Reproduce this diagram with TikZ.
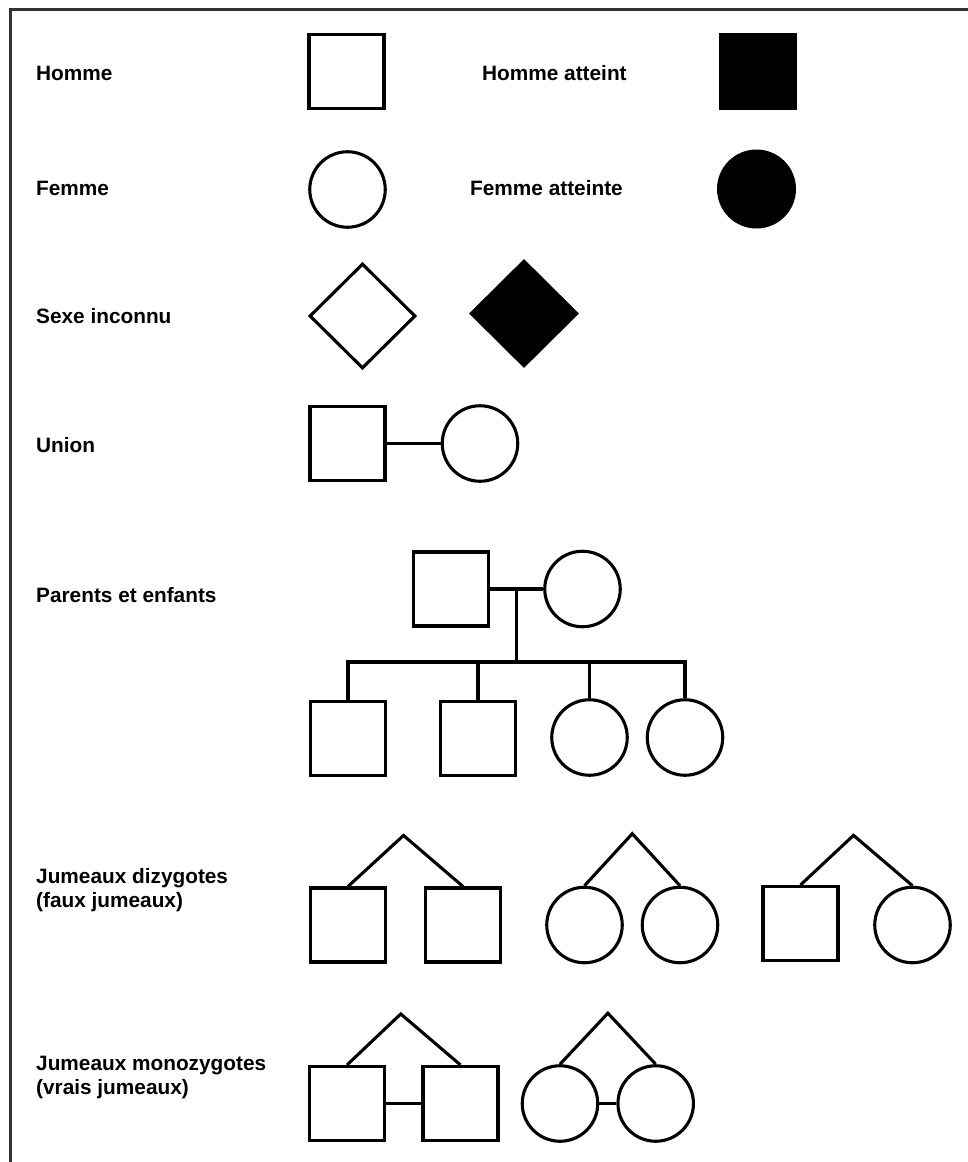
\documentclass[tikz,border=0pt]{standalone}
\usepackage{fontspec}
\setmainfont{Liberation Sans}
\usetikzlibrary{shapes.geometric,calc}
\begin{document}
\begin{tikzpicture}[x=1pt,y=-1pt,
  lw/.style={line width=3.1pt},
  lbl/.style={anchor=base west,inner sep=0pt,font=\bfseries\fontsize{20.8}{24}\selectfont},
  male/.style={draw,lw,rectangle,minimum width=75pt,minimum height=74pt,inner sep=0pt},
  female/.style={draw,lw,circle,minimum size=75.5pt,inner sep=0pt},
  malefill/.style={fill=black,rectangle,minimum width=78pt,minimum height=77pt,inner sep=0pt},
  femalefill/.style={fill=black,circle,minimum size=79pt,inner sep=0pt},
  unk/.style={draw,lw,diamond,minimum width=106pt,minimum height=105pt,inner sep=0pt},
  unkfill/.style={fill=black,diamond,minimum width=110pt,minimum height=109pt,inner sep=0pt},
  link/.style={lw},
  frame/.style={line width=3pt,color=black!80}]
\useasboundingbox (0,0) rectangle (968,1162);
\draw[frame] (10,1170) -- (10,9) -- (975,9);

% labels
\node[lbl] (t1) at (36,80) {Homme};
\node[lbl] (t2) at (482,80) {Homme atteint};
\node[lbl] (t3) at (36,195) {Femme};
\node[lbl] (t4) at (470,195) {Femme atteinte};
\node[lbl] (t5) at (36,323) {Sexe inconnu};
\node[lbl] (t6) at (36,452) {Union};
\node[lbl] (t7) at (36,602) {Parents et enfants};
\node[lbl] (t8) at (36,883) {Jumeaux dizygotes};
\node[lbl] (t9) at (36,907) {(faux jumeaux)};
\node[lbl] (t10) at (36,1070) {Jumeaux monozygotes};
\node[lbl] (t11) at (36,1094) {(vrais jumeaux)};

% simple symbols
\node[male] (hm) at (346.5,71.5) {};
\node[malefill] (hma) at (758,71.5) {};
\node[female] (fm) at (347.5,189.5) {};
\node[femalefill] (fma) at (756.5,189) {};
\node[unk] (sx) at (362.5,316) {};
\node[unkfill] (sxa) at (524,313.5) {};

% union
\node[male] (um) at (347.5,443.5) {};
\node[female] (uf) at (480,443.5) {};
\draw[link] (um.east) -- (uf.west);

% parents et enfants
\node[male] (pf) at (451,589) {};
\node[female] (pm) at (582.5,589) {};
\coordinate (mid) at ($(pf.east)!0.5!(pm.west)$);
\draw[link] (pf.east) -- (pm.west);
\coordinate (sib) at ($(mid)+(0,73)$);
\node[male] (c1) at (348,738.5) {};
\node[male] (c2) at (478,738.5) {};
\node[female] (c3) at (589.5,737.5) {};
\node[female] (c4) at (685,737.5) {};
\draw[link] (mid) -- (sib);
\draw[link] (c1.north) -- (c1.north |- sib) -- (c4.north |- sib) -- (c4.north);
\draw[link] (c2.north) -- (c2.north |- sib);
\draw[link] (c3.north) -- (c3.north |- sib);

% jumeaux dizygotes
\node[male] (da) at (348,925) {};
\node[male] (db) at (463,925) {};
\node[female] (dc) at (584.5,925) {};
\node[female] (dd) at (680,925) {};
\node[male] (de) at (800.5,923.5) {};
\node[female] (df) at (912.5,925) {};
\coordinate (apab) at ($($(da.north)!0.5!(db.north)$)+(-2,-51)$);
\coordinate (apcd) at ($($(dc.north)!0.5!(dd.north)$)+(0,-52)$);
\coordinate (apef) at ($($(de.north)!0.5!(df.north)$)+(-3,-50)$);
\draw[link,line join=miter] (da.north) -- (apab) -- (db.north);
\draw[link,line join=miter] (dc.north) -- (apcd) -- (dd.north);
\draw[link,line join=miter] (de.north) -- (apef) -- (df.north);

% jumeaux monozygotes
\node[male] (ma) at (347,1103.5) {};
\node[male] (mb) at (460.5,1103.5) {};
\node[female] (mc) at (560,1103.5) {};
\node[female] (md) at (655.7,1103.5) {};
\coordinate (apm1) at ($($(ma.north)!0.5!(mb.north)$)+(-3,-51)$);
\coordinate (apm2) at ($($(mc.north)!0.5!(md.north)$)+(0,-51)$);
\draw[link,line join=miter] (ma.north) -- (apm1) -- (mb.north);
\draw[link,line join=miter] (mc.north) -- (apm2) -- (md.north);
\draw[link] (ma.east) -- (mb.west);
\draw[link] (mc.east) -- (md.west);
\end{tikzpicture}
\end{document}
